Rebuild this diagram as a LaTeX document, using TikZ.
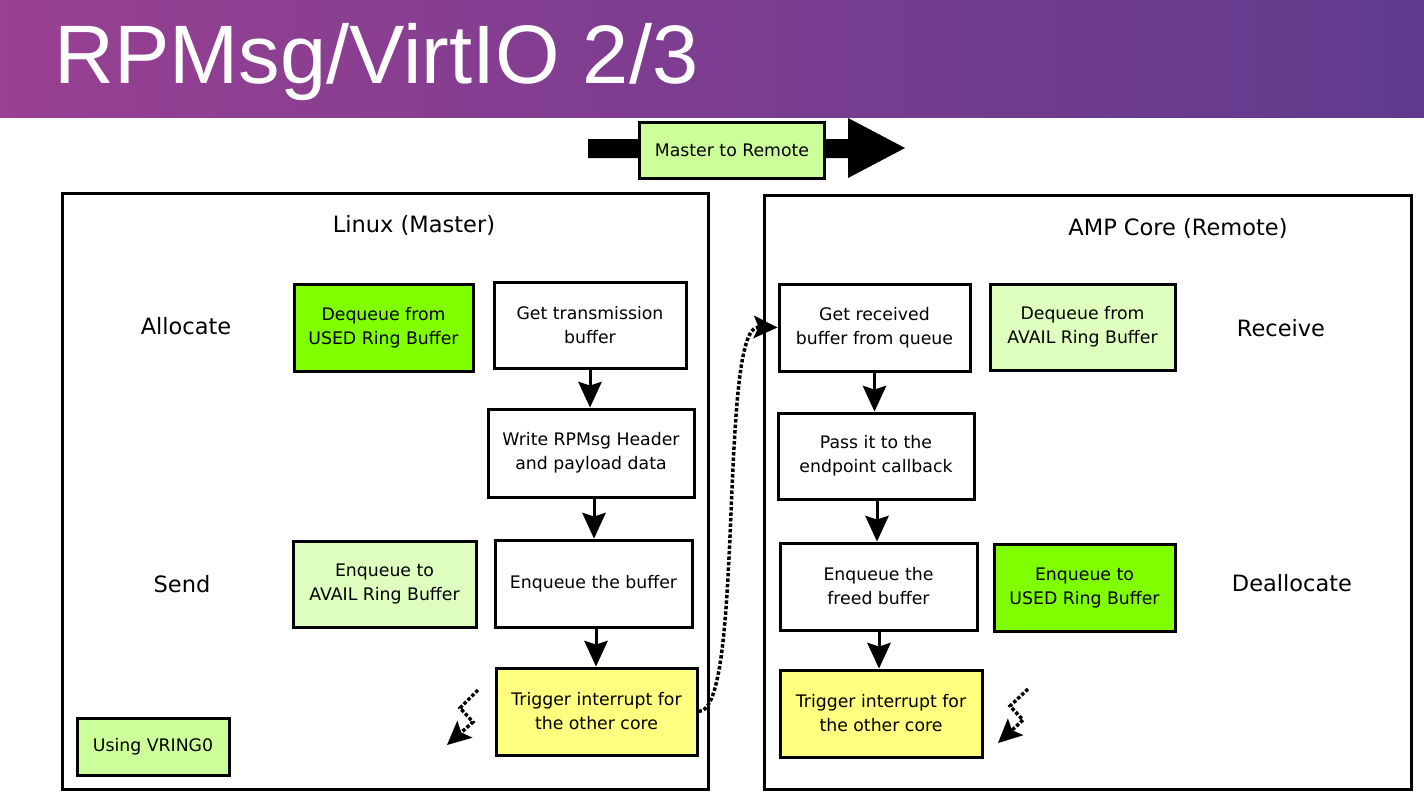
\documentclass[tikz,border=0pt]{standalone}
\usepackage{fontspec}
\setmainfont{DejaVu Sans}
\newfontfamily\titlefont{Liberation Sans}
\usetikzlibrary{arrows.meta}
\definecolor{barleft}{RGB}{152,64,146}
\definecolor{barright}{RGB}{96,58,142}
\definecolor{brightgreen}{RGB}{128,255,0}
\definecolor{palegreen}{RGB}{222,255,190}
\definecolor{midgreen}{RGB}{204,255,153}
\definecolor{softyellow}{RGB}{255,255,128}
\tikzset{
  box/.style={draw=black, line width=3pt, align=center, inner sep=0pt,
    font=\fontsize{17.3}{24}\selectfont},
  frame/.style={draw=black, line width=3pt},
  lbl/.style={font=\fontsize{22.5}{26}\selectfont},
  headtip/.tip={Stealth[length=26pt,width=24pt,inset=4pt,line width=0pt]},
  flow/.style={line width=3pt, -headtip},
  dotflow/.style={line width=3.5pt, dotted, -{Stealth[length=24pt,width=23pt,inset=5pt,line width=0pt]}},
}
\begin{document}
\begin{tikzpicture}[x=1pt,y=-1pt]
\useasboundingbox (0,0) rectangle (1424,792);
\fill[white] (0,0) rectangle (1424,792);
% title bar
\shade[left color=barleft, right color=barright] (0,0) rectangle (1424,117);
\node[anchor=base west, text=white, inner sep=0pt, font=\titlefont\fontsize{83}{90}\selectfont] (title) at (54,84) {RPMsg/VirtIO 2/3};
% big top arrow
\fill[black] (588,139) -- (848,139) -- (848,118) -- (905,148) -- (848,178) -- (848,158) -- (588,158) -- cycle;
\node[box, fill=midgreen, minimum width=185pt, minimum height=56pt] (m2r) at (732,150) {Master to Remote};
% frames
\draw[frame] (62,193) rectangle (708,789);
\draw[frame] (764,195) rectangle (1411,789);
\node[lbl] (linux) at (414,225) {Linux (Master)};
\node[lbl] (amp) at (1178,228) {AMP Core (Remote)};
\node[lbl] (alloc) at (186,326) {Allocate};
\node[lbl] (send) at (182,584) {Send};
\node[lbl] (recv) at (1281,328) {Receive};
\node[lbl] (dealloc) at (1292,583) {Deallocate};
% left boxes
\node[box, fill=brightgreen, minimum width=179pt, minimum height=87pt] (usedL) at (383.5,327.5) {Dequeue from\\USED Ring Buffer};
\node[box, fill=white, minimum width=192pt, minimum height=86pt] (getTx) at (590,325) {Get transmission\\buffer};
\node[box, fill=white, minimum width=206pt, minimum height=88pt] (write) at (591,453) {Write RPMsg Header\\and payload data};
\node[box, fill=white, minimum width=197pt, minimum height=87pt] (enqBuf) at (593.5,583.5) {Enqueue the buffer};
\node[box, fill=palegreen, minimum width=183pt, minimum height=86pt] (enqAvail) at (384.5,584) {Enqueue to\\AVAIL Ring Buffer};
\node[box, fill=softyellow, minimum width=201pt, minimum height=87pt] (trigL) at (596.5,711.5) {Trigger interrupt for\\the other core};
\node[box, fill=midgreen, minimum width=152pt, minimum height=57pt] (vring) at (153,746.5) {Using VRING0};
% right boxes
\node[box, fill=white, minimum width=191pt, minimum height=87pt] (getRecv) at (874.5,327.5) {Get received\\buffer from queue};
\node[box, fill=palegreen, minimum width=185pt, minimum height=86pt] (deqAvail) at (1082.5,327) {Dequeue from\\AVAIL Ring Buffer};
\node[box, fill=white, minimum width=196pt, minimum height=86pt] (pass) at (876,456) {Pass it to the\\endpoint callback};
\node[box, fill=white, minimum width=197pt, minimum height=87pt] (enqFreed) at (878.5,586.5) {Enqueue the\\freed buffer};
\node[box, fill=brightgreen, minimum width=181pt, minimum height=87pt] (enqUsed) at (1084.5,587.5) {Enqueue to\\USED Ring Buffer};
\node[box, fill=softyellow, minimum width=202pt, minimum height=87pt] (trigR) at (881,713.5) {Trigger interrupt for\\the other core};
% flow arrows
\draw[flow] (getTx.south) -- (getTx.south |- write.north);
\draw[flow] ([xshift=3pt]write.south) -- ([xshift=3pt]write.south |- enqBuf.north);
\draw[flow] ([xshift=2.5pt]enqBuf.south) -- ([xshift=2.5pt]enqBuf.south |- trigL.north);
\draw[flow] (getRecv.south) -- (getRecv.south |- pass.north);
\draw[flow] ([xshift=1pt]pass.south) -- ([xshift=1pt]pass.south |- enqFreed.north);
\draw[flow] ([xshift=0.5pt]enqFreed.south) -- ([xshift=0.5pt]enqFreed.south |- trigR.north);
% dotted interrupt curve
\draw[dotflow] (trigL.east) .. controls (745,712) and (718,326) .. (getRecv.west);
% lightning arrows
\coordinate (zlA) at (478,690);
\coordinate (zlB) at (447,745);
\draw[dotflow] (zlA) -- (460,708) -- (473,722) -- (zlB);
\coordinate (zrA) at (1028,689);
\coordinate (zrB) at (998,743);
\draw[dotflow] (zrA) -- (1010,706) -- (1023,720) -- (zrB);
\end{tikzpicture}
\end{document}
